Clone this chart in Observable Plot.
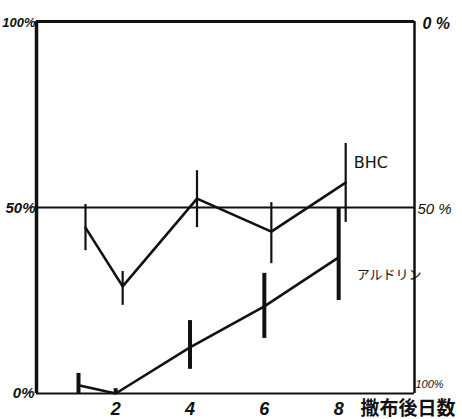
<!DOCTYPE html>
<html><head><meta charset="utf-8">
<script src="https://cdn.jsdelivr.net/npm/d3@7"></script>
<script src="https://cdn.jsdelivr.net/npm/@observablehq/plot@0.6"></script>
<style>body{margin:0;background:#fff}</style>
</head><body><div id="chart"></div>
<script>
const days = [1, 2, 4, 6, 8];
const bhcMean = [44.6, 28.8, 52.4, 43.5, 56.7];
const bhcLow  = [38.4, 23.7, 44.6, 34.9, 46.0];
const bhcHigh = [50.8, 32.8, 59.9, 51.3, 67.2];
const aldMean = [2.2, 0, 12.4, 23.4, 36.6];
const aldLow  = [0, 0, 6.5, 14.8, 25.0];
const aldHigh = [5.4, 1.3, 19.6, 32.3, 50.0];
const xTicks = [2, 4, 6, 8];
const xDomain = [-0.13, 10.04];
const leftLabels = [{v: 100, t: "100%"}, {v: 50, t: "50%"}, {v: 0, t: "0%"}];
const rightLabels = [{v: 100, t: "0 %"}, {v: 50, t: "50 %"}, {v: 0, t: "100%"}];
const seriesNames = ["BHC", "アルドリン"];
const xTitle = "撒布後日数";

const bhc = days.map((d, i) => ({d, m: bhcMean[i], lo: bhcLow[i], hi: bhcHigh[i]}));
const ald = days.map((d, i) => ({d, m: aldMean[i], lo: aldLow[i], hi: aldHigh[i]}));
const hand = "'Liberation Sans', 'DejaVu Sans', sans-serif";

const chart = Plot.plot({
  width: 462, height: 419,
  marginLeft: 36, marginRight: 48, marginTop: 21, marginBottom: 26,
  x: {domain: xDomain, axis: null},
  y: {domain: [0, 100], axis: null},
  marks: [
    Plot.ruleY([50], {stroke: "#111", strokeWidth: 2}),
    Plot.ruleY([100], {stroke: "#111", strokeWidth: 3}),
    Plot.ruleY([0], {stroke: "#111", strokeWidth: 2}),
    Plot.ruleX([xDomain[0]], {stroke: "#111", strokeWidth: 3.5}),
    Plot.ruleX([xDomain[1]], {stroke: "#111", strokeWidth: 2.5}),
    // BHC
    Plot.ruleX(bhc, {x: "d", y1: "lo", y2: "hi", dx: 7, stroke: "#111", strokeWidth: 2.2}),
    Plot.line(bhc, {x: "d", y: "m", dx: 7, stroke: "#111", strokeWidth: 2.6}),
    // Aldrin
    Plot.ruleX(ald, {x: "d", y1: "lo", y2: "hi", stroke: "#111", strokeWidth: 4}),
    Plot.line(ald, {x: "d", y: "m", stroke: "#111", strokeWidth: 2.6}),
    // series labels
    Plot.text([bhc[bhc.length - 1]], {x: "d", y: "m", text: () => seriesNames[0], dx: 15, dy: -20, textAnchor: "start", fontSize: 16, fontFamily: "'DejaVu Sans', sans-serif", fill: "#111"}),
    Plot.text([ald[ald.length - 1]], {x: "d", y: "m", text: () => seriesNames[1], dx: 18, dy: 17, textAnchor: "start", fontSize: 13, fontFamily: "'Noto Sans CJK JP', sans-serif", fill: "#111", letterSpacing: "-1.5px"}),
    // x tick labels
    Plot.text(xTicks, {x: d => d, y: 0, text: d => String(d), dy: 16, fontSize: 18, fontStyle: "italic", fontWeight: "bold", fontFamily: hand, fill: "#111"}),
    Plot.text([xTitle], {x: xDomain[1], y: 0, text: d => d, dx: -54, dy: 15, textAnchor: "start", fontSize: 19, fontWeight: "bold", fontFamily: "'Noto Sans CJK JP', sans-serif", fill: "#111", letterSpacing: "-1px"}),
    // left labels
    Plot.text([leftLabels[0]], {x: xDomain[0], y: "v", text: "t", dx: -1, dy: 1, textAnchor: "end", fontSize: 13, fontStyle: "italic", fontWeight: "bold", fontFamily: hand, fill: "#111", letterSpacing: "-1.5px"}),
    Plot.text([leftLabels[1]], {x: xDomain[0], y: "v", text: "t", dx: -1, dy: 1, textAnchor: "end", fontSize: 15, fontStyle: "italic", fontWeight: "bold", fontFamily: hand, fill: "#111", letterSpacing: "-1.5px"}),
    Plot.text([leftLabels[2]], {x: xDomain[0], y: "v", text: "t", dx: -2, dy: 0, textAnchor: "end", fontSize: 15, fontStyle: "italic", fontWeight: "bold", fontFamily: hand, fill: "#111", letterSpacing: "-1.5px"}),
    // right labels
    Plot.text([rightLabels[0]], {x: xDomain[1], y: "v", text: "t", dx: 8, dy: 2, textAnchor: "start", fontSize: 16, fontStyle: "italic", fontWeight: "bold", fontFamily: hand, fill: "#111"}),
    Plot.text([rightLabels[1]], {x: xDomain[1], y: "v", text: "t", dx: 3, dy: 2, textAnchor: "start", fontSize: 15, fontStyle: "italic", fontFamily: hand, fill: "#111", letterSpacing: "-0.5px"}),
    Plot.text([rightLabels[2]], {x: xDomain[1], y: "v", text: "t", dx: 1, dy: -9, textAnchor: "start", fontSize: 11, fontStyle: "italic", fontFamily: hand, fill: "#111", letterSpacing: "-0.5px"})
  ]
});
document.getElementById("chart").appendChild(chart);
</script>
</body></html>
